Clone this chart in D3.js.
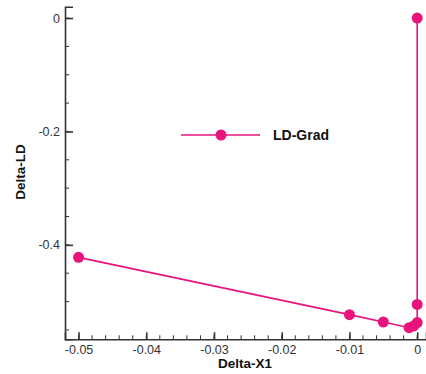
<!DOCTYPE html>
<html>
<head>
<meta charset="utf-8" />
<script src="https://d3js.org/d3.v7.min.js"></script>
<style>
body { margin: 0; background: #fff; }
text { font-family: "Liberation Sans", Arial, sans-serif; }
</style>
</head>
<body>
<svg id="chart"></svg>
<script>
var width = 426, height = 374;

// data
var seriesName = "LD-Grad";
var deltaX1 = [-0.05, -0.01, -0.005, -0.0012, -0.0005, 0, 0, 0];
var deltaLD = [-0.422, -0.523, -0.536, -0.546, -0.543, -0.537, -0.505, 0];
var xTicks = [-0.05, -0.04, -0.03, -0.02, -0.01, 0];
var yTicks = [0, -0.2, -0.4];

var color = "#e8147c";
var axisColor = "#333";

var svg = d3.select("#chart").attr("width", width).attr("height", height);

var x = d3.scaleLinear().domain([-0.052, 0.0013]).range([65, 426]);
var y = d3.scaleLinear().domain([-0.5665, 0.02]).range([339.3, 6.7]);

var points = deltaX1.map(function(d, i) { return { x: d, y: deltaLD[i] }; });

// minor ticks
var xMinor = d3.range(-0.05, 0.0001, 0.002);
var yMinor = d3.range(0, -0.56, -0.05);

// plain hyphen minus like the original
function fmt(d) { return String(d); }

var gx = svg.append("g").attr("transform", "translate(0," + y.range()[0] + ")");
gx.selectAll(".minor").data(xMinor).enter().append("line")
    .attr("x1", function(d) { return x(d); }).attr("x2", function(d) { return x(d); })
    .attr("y1", 0).attr("y2", -4)
    .attr("stroke", axisColor).attr("stroke-width", 1);
gx.call(d3.axisBottom(x).tickValues(xTicks).tickSize(-7).tickFormat(fmt));

var gy = svg.append("g").attr("transform", "translate(" + x.range()[0] + ",0)");
gy.selectAll(".minor").data(yMinor).enter().append("line")
    .attr("y1", function(d) { return y(d); }).attr("y2", function(d) { return y(d); })
    .attr("x1", 0).attr("x2", 4)
    .attr("stroke", axisColor).attr("stroke-width", 1);
gy.call(d3.axisLeft(y).tickValues(yTicks).tickSize(-8).tickFormat(fmt));

[gx, gy].forEach(function(g) {
    g.select(".domain").attr("stroke", axisColor).attr("stroke-width", 1.6);
    g.selectAll(".tick line").attr("stroke", axisColor).attr("stroke-width", 1.6);
    g.selectAll(".tick text").attr("fill", "#333").attr("font-size", 12.5)
        .attr("font-family", "Liberation Sans, Arial, sans-serif");
});
gy.selectAll(".tick text").attr("x", -5);
gx.selectAll(".tick text").attr("dy", "0.35em").attr("y", 10);

// axis titles
svg.append("text")
    .attr("x", 245).attr("y", 368)
    .attr("text-anchor", "middle")
    .attr("font-size", 13.5).attr("font-weight", "bold").attr("fill", "#111")
    .text("Delta-X1");
svg.append("text")
    .attr("transform", "translate(25,172) rotate(-90)")
    .attr("text-anchor", "middle")
    .attr("font-size", 13.5).attr("font-weight", "bold").attr("fill", "#111")
    .text("Delta-LD");

// series
var line = d3.line().x(function(d) { return x(d.x); }).y(function(d) { return y(d.y); });
svg.append("path").datum(points)
    .attr("d", line).attr("fill", "none")
    .attr("stroke", color).attr("stroke-width", 1.6);
svg.selectAll(".pt").data(points).enter().append("circle")
    .attr("class", "pt")
    .attr("cx", function(d) { return x(d.x); })
    .attr("cy", function(d) { return y(d.y); })
    .attr("r", 5.5).attr("fill", color);

// legend
var legend = svg.append("g");
legend.append("line").attr("x1", 181).attr("x2", 260).attr("y1", 135).attr("y2", 135)
    .attr("stroke", color).attr("stroke-width", 1.6);
legend.append("circle").attr("cx", 221).attr("cy", 135).attr("r", 5.5).attr("fill", color);
legend.append("text").attr("x", 273).attr("y", 140)
    .attr("font-size", 14).attr("font-weight", "bold").attr("fill", "#111")
    .text(seriesName);
</script>
</body>
</html>
